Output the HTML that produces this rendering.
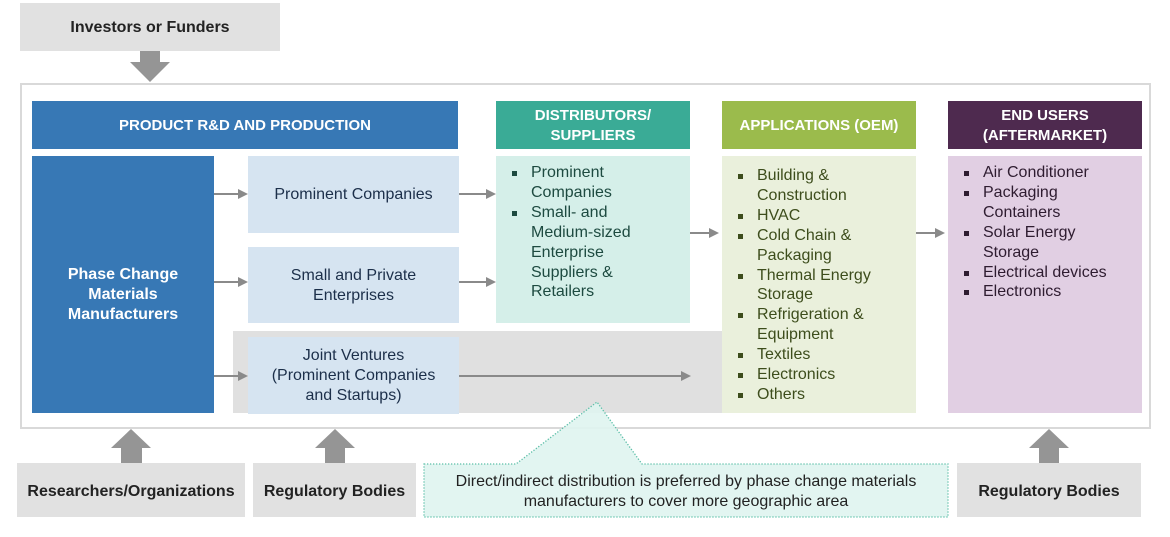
<!DOCTYPE html>
<html><head><meta charset="utf-8">
<style>
*{margin:0;padding:0;box-sizing:border-box}
body{width:1170px;height:537px;background:#fff;position:relative;overflow:hidden;font-family:"Liberation Sans",Arial,sans-serif}
.a{position:absolute}
.c{display:flex;align-items:center;justify-content:center;text-align:center}
.hdr{color:#fff;font-weight:bold;font-size:15px;line-height:20px}
.gbox{background:#e1e1e1;color:#222;font-weight:bold;font-size:16px;padding-top:3px}
.lb{font-size:16px;line-height:20px}
ul{list-style:none}
li{position:relative;padding-left:35px;font-size:16px;line-height:19.9px}
li:before{content:"";position:absolute;left:16px;top:8px;width:5px;height:5px;background:currentColor}
</style></head><body>

<!-- Investors -->
<div class="a c gbox" style="left:20px;top:3px;width:260px;height:48px;padding-top:1px;">Investors or Funders</div>

<!-- outer frame -->
<div class="a" style="left:20px;top:83px;width:1131px;height:346px;border:2px solid #d9d9d9;"></div>

<!-- headers -->
<div class="a c hdr" style="left:32px;top:101px;width:426px;height:48px;background:#3778b5;padding-top:2px;">PRODUCT R&amp;D AND PRODUCTION</div>
<div class="a c hdr" style="left:496px;top:101px;width:194px;height:48px;background:#3aab96;padding-top:2px;">DISTRIBUTORS/<br>SUPPLIERS</div>
<div class="a c hdr" style="left:722px;top:101px;width:194px;height:48px;background:#9bbb4c;padding-top:2px;">APPLICATIONS (OEM)</div>
<div class="a c hdr" style="left:948px;top:101px;width:194px;height:48px;background:#4e2a4f;padding-top:2px;">END USERS<br>(AFTERMARKET)</div>

<!-- grey band -->
<div class="a" style="left:233px;top:331px;width:490px;height:82px;background:#e0e0e0;"></div>

<!-- Phase change -->
<div class="a c" style="left:32px;top:156px;width:182px;height:257px;background:#3778b5;color:#fff;font-weight:bold;font-size:16px;line-height:20px;padding-top:21px;">Phase Change<br>Materials<br>Manufacturers</div>

<!-- light blue boxes -->
<div class="a c lb" style="left:248px;top:156px;width:211px;height:77px;background:#d6e4f1;color:#1c2f4a;padding-top:1px;">Prominent Companies</div>
<div class="a c lb" style="left:248px;top:247px;width:211px;height:76px;background:#d6e4f1;color:#1c2f4a;padding-top:1px;">Small and Private<br>Enterprises</div>
<div class="a c lb" style="left:248px;top:337px;width:211px;height:77px;background:#d6e4f1;color:#1c2f4a;padding-top:1px;">Joint Ventures<br>(Prominent Companies<br>and Startups)</div>

<!-- distributors body -->
<div class="a" style="left:496px;top:156px;width:194px;height:167px;background:#d5efe9;color:#1d4a40;padding-top:7px;">
<ul><li>Prominent<br>Companies</li><li>Small- and<br>Medium-sized<br>Enterprise<br>Suppliers &amp;<br>Retailers</li></ul>
</div>

<!-- applications body -->
<div class="a" style="left:722px;top:156px;width:194px;height:257px;background:#eaf0dc;color:#3d4d1c;padding-top:10px;">
<ul><li>Building &amp;<br>Construction</li><li>HVAC</li><li>Cold Chain &amp;<br>Packaging</li><li>Thermal Energy<br>Storage</li><li>Refrigeration &amp;<br>Equipment</li><li>Textiles</li><li>Electronics</li><li>Others</li></ul>
</div>

<!-- end users body -->
<div class="a" style="left:948px;top:156px;width:194px;height:257px;background:#e1cfe3;color:#2e1c30;padding-top:7px;">
<ul><li>Air Conditioner</li><li>Packaging<br>Containers</li><li>Solar Energy<br>Storage</li><li>Electrical devices</li><li>Electronics</li></ul>
</div>

<!-- bottom boxes -->
<div class="a c gbox" style="left:17px;top:463px;width:228px;height:54px;">Researchers/Organizations</div>
<div class="a c gbox" style="left:253px;top:463px;width:163px;height:54px;">Regulatory Bodies</div>
<div class="a c gbox" style="left:957px;top:463px;width:184px;height:54px;">Regulatory Bodies</div>

<svg class="a" style="left:0;top:0" width="1170" height="537" viewBox="0 0 1170 537">
 <g fill="#959595">
  <polygon points="140,51 160,51 160,62 170,62 150,82 130,62 140,62"/>
  <polygon points="131,429 151,448 142,448 142,463 121,463 121,448 111,448"/>
  <polygon points="335,429 355,448 345,448 345,463 325,463 325,448 315,448"/>
  <polygon points="1049,429 1069,448 1059,448 1059,463 1039,463 1039,448 1029,448"/>
 </g>
 <g stroke="#8a8a8a" stroke-width="2" fill="none">
  <line x1="214" y1="194" x2="240" y2="194"/>
  <line x1="214" y1="282" x2="240" y2="282"/>
  <line x1="214" y1="376" x2="240" y2="376"/>
  <line x1="459" y1="194" x2="487" y2="194"/>
  <line x1="459" y1="282" x2="487" y2="282"/>
  <line x1="690" y1="233" x2="711" y2="233"/>
  <line x1="916" y1="233" x2="937" y2="233"/>
  <line x1="459" y1="376" x2="682" y2="376"/>
 </g>
 <g fill="#8a8a8a">
  <polygon points="238,189 248,194 238,199"/>
  <polygon points="238,277 248,282 238,287"/>
  <polygon points="238,371 248,376 238,381"/>
  <polygon points="486,189 496,194 486,199"/>
  <polygon points="486,277 496,282 486,287"/>
  <polygon points="709,228 719,233 709,238"/>
  <polygon points="935,228 945,233 935,238"/>
  <polygon points="681,371 691,376 681,381"/>
 </g>
 <path d="M424,464 L516,464 L597,402 L642,464 L948,464 L948,517 L424,517 Z" fill="#dff4ef" fill-opacity="0.9" stroke="#5cbfa8" stroke-width="1.3" stroke-dasharray="1.3,1.7"/>
 <text x="686" y="486" text-anchor="middle" font-family="Liberation Sans, Arial, sans-serif" font-size="16" fill="#222">Direct/indirect distribution is preferred by phase change materials</text>
 <text x="686" y="506" text-anchor="middle" font-family="Liberation Sans, Arial, sans-serif" font-size="16" fill="#222">manufacturers to cover more geographic area</text>
</svg>
</body></html>
